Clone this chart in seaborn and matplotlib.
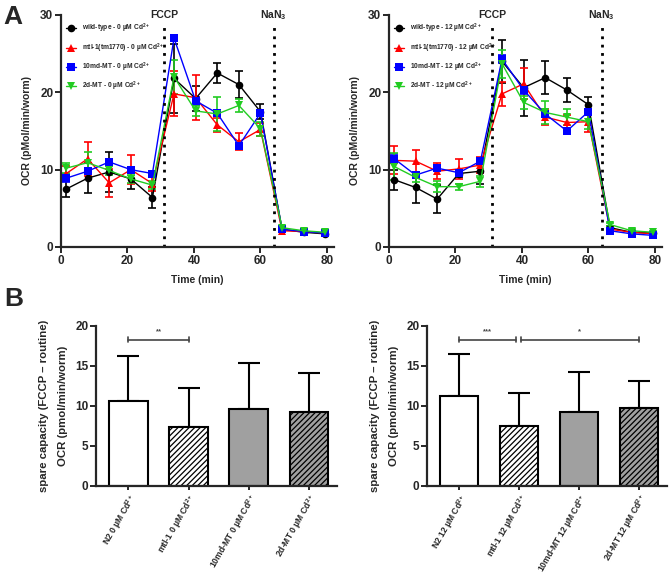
import numpy as np
import pandas as pd
import matplotlib
matplotlib.use("Agg")
import matplotlib.pyplot as plt
import seaborn as sns

sns.set_style("ticks")
plt.rcParams['font.family'] = ['Liberation Sans', 'DejaVu Sans']
plt.rcParams['font.weight'] = 'bold'
plt.rcParams['axes.labelweight'] = 'bold'
plt.rcParams['mathtext.fontset'] = 'custom'
plt.rcParams['mathtext.rm'] = 'Liberation Sans:bold'
plt.rcParams['mathtext.bf'] = 'Liberation Sans:bold'
plt.rcParams['mathtext.it'] = 'Liberation Sans:bold'
plt.rcParams['hatch.linewidth'] = 0.9

# ---- data: panel A (OCR over time) ----
time = [1.6, 8, 14.5, 21, 27.5, 34, 40.5, 47, 53.5, 60, 66.5, 73, 79.5]
genotypes = ["wild-type", "mtl-1(tm1770)", "10md-MT", "2d-MT"]
colors = ["black", "red", "blue", "#22cc22"]
markers = ["o", "^", "s", "v"]

wt_0 = [7.5, 8.9, 9.7, 8.8, 6.4, 21.8, 19.2, 22.5, 21.0, 17.5, 2.3, 1.9, 1.7]
wt_0_err = [1.0, 1.9, 2.6, 1.3, 1.3, 4.5, 1.6, 1.3, 1.7, 1.0, 0.2, 0.2, 0.2]
mtl_0 = [9.5, 11.4, 8.3, 10.0, 8.2, 19.8, 19.3, 15.8, 13.6, 15.2, 2.1, 2.0, 1.8]
mtl_0_err = [1.0, 2.2, 1.8, 1.9, 1.0, 2.9, 2.9, 0.9, 1.1, 0.8, 0.2, 0.2, 0.2]
md10_0 = [8.9, 9.8, 11.0, 10.0, 9.5, 27.0, 18.9, 17.3, 13.1, 17.3, 2.3, 2.0, 1.8]
md10_0_err = [0.5, 0.4, 0.4, 0.4, 0.3, 0.4, 0.5, 0.4, 0.4, 0.4, 0.2, 0.2, 0.2]
d2_0 = [10.2, 10.9, 9.9, 8.8, 8.0, 22.0, 17.6, 17.2, 18.3, 15.3, 2.5, 2.1, 1.9]
d2_0_err = [0.6, 1.4, 0.6, 0.5, 0.5, 2.2, 0.6, 2.2, 0.8, 0.9, 0.2, 0.2, 0.2]

wt_12 = [8.7, 7.7, 6.2, 9.5, 9.8, 24.0, 20.6, 21.9, 20.3, 18.4, 2.5, 1.9, 1.8]
wt_12_err = [1.3, 2.0, 1.8, 0.4, 1.6, 2.8, 3.6, 2.1, 1.5, 1.0, 0.2, 0.2, 0.2]
mtl_12 = [11.2, 11.1, 9.8, 10.1, 10.6, 19.8, 21.1, 16.8, 16.1, 16.2, 2.3, 1.9, 1.7]
mtl_12_err = [1.8, 1.5, 1.0, 1.3, 1.0, 1.6, 2.0, 1.0, 1.0, 1.3, 0.2, 0.2, 0.2]
md10_12 = [11.4, 9.3, 10.2, 9.6, 11.1, 24.3, 20.3, 17.2, 15.0, 17.5, 2.1, 1.7, 1.5]
md10_12_err = [0.6, 0.4, 0.4, 0.4, 0.4, 0.5, 0.5, 0.4, 0.4, 0.4, 0.2, 0.2, 0.2]
d2_12 = [10.4, 9.0, 7.8, 7.8, 8.5, 23.7, 18.7, 17.4, 16.8, 16.2, 2.9, 2.1, 1.9]
d2_12_err = [1.7, 0.6, 0.7, 0.4, 0.7, 1.8, 0.8, 1.5, 1.0, 1.0, 0.2, 0.2, 0.2]

# ---- data: panel B (spare capacity) ----
bar_labels_0 = ["N2 0 µM Cd$^{2+}$", "mtl-1 0 µM Cd$^{2+}$",
                "10md-MT 0 µM Cd$^{2+}$", "2d-MT 0 µM Cd$^{2+}$"]
bar_vals_0 = [10.6, 7.4, 9.6, 9.2]
bar_err_0 = [5.6, 4.8, 5.8, 4.9]
bar_labels_12 = ["N2 12 µM Cd$^{2+}$", "mtl-1 12 µM Cd$^{2+}$",
                 "10md-MT 12 µM Cd$^{2+}$", "2d-MT 12 µM Cd$^{2+}$"]
bar_vals_12 = [11.2, 7.5, 9.3, 9.8]
bar_err_12 = [5.3, 4.1, 4.9, 3.3]
bar_colors = ["white", "white", "#a0a0a0", "#a0a0a0"]
bar_hatch = ["", "//////", "", "//////"]

W, H = 669, 575
fig = plt.figure(figsize=(W / 100, H / 100), dpi=100)


def px_axes(left, top, right, bottom):
    return fig.add_axes([left / W, 1 - bottom / H, (right - left) / W, (bottom - top) / H])


def style_ax(ax):
    for s in ["left", "bottom"]:
        ax.spines[s].set_linewidth(1.6)
    sns.despine(ax=ax)
    ax.tick_params(width=1.4, length=4, labelsize=8.5, pad=1.5)
    for lab in ax.get_xticklabels() + ax.get_yticklabels():
        lab.set_fontweight('bold')


def time_panel(ax, series, errs, dose):
    rows = []
    for g, vals in zip(genotypes, series):
        name = f"{g} - {dose} µM Cd$^{{2+}}$"
        for t, v in zip(time, vals):
            rows.append({"time": t, "OCR": v, "group": name})
    df = pd.DataFrame(rows)
    names = list(df["group"].unique())
    sns.lineplot(data=df, x="time", y="OCR", hue="group", style="group",
                 hue_order=names, style_order=names, palette=colors,
                 markers=markers, dashes=False, markersize=5.5,
                 markeredgewidth=0, linewidth=1.0, ax=ax)
    for vals, err, c in zip(series, errs, colors):
        ax.errorbar(time, vals, yerr=err, fmt="none", ecolor=c,
                    elinewidth=1.2, capsize=3, capthick=1.2, zorder=1)
    ax.set_xlim(0, 82)
    ax.set_ylim(0, 30)
    ax.set_xticks([0, 20, 40, 60, 80])
    ax.set_yticks([0, 10, 20, 30])
    for x0 in (31, 64):
        ax.axvline(x0, ymin=0, ymax=0.965, color="black", ls=(0, (1, 2)), lw=2)
    ax.text(31, 30, "FCCP", ha="center", va="center", fontsize=7.5, fontweight="bold")
    ax.text(64, 30, "NaN$_3$", ha="center", va="center", fontsize=7.5, fontweight="bold")
    ax.set_xlabel("Time (min)", fontsize=7.5, labelpad=6)
    ax.set_ylabel("OCR (pMol/min/worm)", fontsize=7.5, labelpad=6)
    leg = ax.legend(loc="upper left", bbox_to_anchor=(0.0, 0.99), frameon=False,
                    fontsize=4.8, handlelength=1.6, handletextpad=0.8,
                    labelspacing=0.9, borderaxespad=0.3)
    for t in leg.get_texts():
        t.set_fontweight("bold")
    style_ax(ax)


def bar_panel(ax, labels, vals, err, brackets):
    df = pd.DataFrame({"group": labels, "val": vals})
    sns.barplot(data=df, x="group", y="val", hue="group", palette=bar_colors,
                legend=False, width=0.64, edgecolor="black", linewidth=1.5,
                errorbar=None, ax=ax, zorder=2)
    for p, h in zip(ax.patches, bar_hatch):
        p.set_hatch(h)
    ax.errorbar(range(len(vals)), vals, yerr=[[0] * len(vals), err], fmt="none",
                ecolor="black", elinewidth=1.5, capsize=8, capthick=1.5, zorder=1)
    ax.set_xlim(-0.54, 3.47)
    ax.set_ylim(0, 20)
    ax.set_yticks([0, 5, 10, 15, 20])
    ax.set_xlabel("")
    ax.set_ylabel("spare capacity (FCCP – routine)\nOCR (pmol/min/worm)",
                  fontsize=8.2, labelpad=5, linespacing=2.1)
    ax.set_xticks(range(len(labels)))
    ax.set_xticklabels(labels, rotation=60, ha="right", rotation_mode="anchor",
                       fontsize=6.2)
    for x0, x1, star in brackets:
        ax.plot([x0, x1], [18.3, 18.3], color="#444444", lw=1.2, clip_on=False)
        for xe in (x0, x1):
            ax.plot([xe, xe], [17.95, 18.65], color="#444444", lw=1.2, clip_on=False)
        ax.text((x0 + x1) / 2, 18.9, star, ha="center", va="bottom", fontsize=5.5,
                color="#444444")
    style_ax(ax)
    ax.tick_params(axis="x", labelsize=6.2, length=3)


axA1 = px_axes(61, 15, 333.6, 247)
axA2 = px_axes(389, 15, 661.6, 247)
time_panel(axA1, [wt_0, mtl_0, md10_0, d2_0],
           [wt_0_err, mtl_0_err, md10_0_err, d2_0_err], 0)
time_panel(axA2, [wt_12, mtl_12, md10_12, d2_12],
           [wt_12_err, mtl_12_err, md10_12_err, d2_12_err], 12)

axB1 = px_axes(96, 326, 337, 486)
axB2 = px_axes(427, 326, 667, 486)
bar_panel(axB1, bar_labels_0, bar_vals_0, bar_err_0, [(0, 1, "**")])
bar_panel(axB2, bar_labels_12, bar_vals_12, bar_err_12,
          [(0, 0.94, "***"), (1.03, 3, "*")])

fig.text(3 / W, 1 - 5 / H, "A", fontsize=19, fontweight="bold", va="top", ha="left")
fig.text(4 / W, 1 - 287 / H, "B", fontsize=19, fontweight="bold", va="top", ha="left")

fig.savefig("out.png", dpi=100)
